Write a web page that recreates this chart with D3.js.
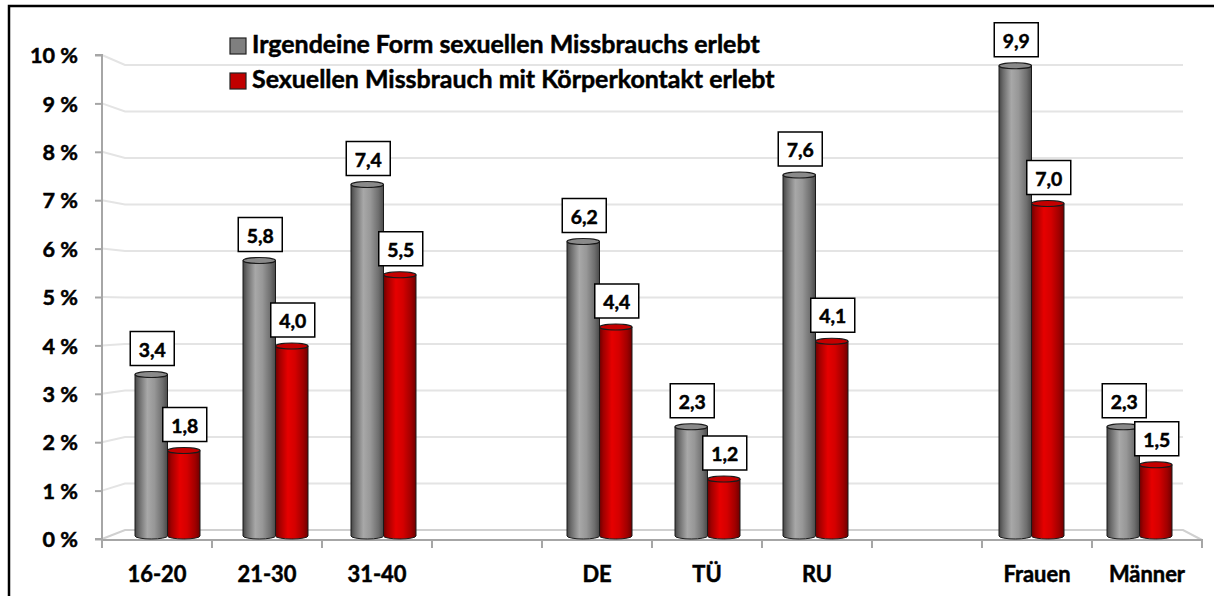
<!DOCTYPE html>
<html><head><meta charset="utf-8">
<script src="https://cdn.jsdelivr.net/npm/d3@7"></script>
<style>body{margin:0;background:#fff}svg{display:block}</style>
</head><body>
<svg id="c" width="1214" height="596"></svg>
<script>
const categories = ["16-20","21-30","31-40","","DE","TÜ","RU","","Frauen","Männer"];
const seriesNames = ["Irgendeine Form sexuellen Missbrauchs erlebt","Sexuellen Missbrauch mit Körperkontakt erlebt"];
const seriesAny = [3.4,5.8,7.4,null,6.2,2.3,7.6,null,9.9,2.3];
const seriesContact = [1.8,4.0,5.5,null,4.4,1.2,4.1,null,7.0,1.5];
const yTicks = [0,1,2,3,4,5,6,7,8,9,10];
const yTickLabels = yTicks.map(v => v + " %");

const svg = d3.select("#c");
const FONT = "Lato, 'Open Sans', sans-serif";
const defs = svg.append("defs");
function grad(id, stops){
  const g = defs.append("linearGradient").attr("id", id).attr("x1","0").attr("x2","1").attr("y1","0").attr("y2","0");
  stops.forEach(s => g.append("stop").attr("offset", s[0]).attr("stop-color", s[1]));
}
grad("gGrey", [[0,"#454545"],[0.12,"#6a6a6a"],[0.38,"#a8a8a8"],[0.6,"#979797"],[0.85,"#6e6e6e"],[1,"#4a4a4a"]]);
grad("gRed", [[0,"#6e0000"],[0.12,"#a00000"],[0.38,"#e60000"],[0.6,"#d40000"],[0.85,"#a00000"],[1,"#700000"]]);

const idx = categories.map((c,i)=>i);
// scales
const xFront = d3.scaleBand().domain(idx).range([102,1202]).padding(0);
const xBar = d3.scaleBand().domain(idx).range([113.5,1193.5]).padding(0);
const xSub = d3.scaleBand().domain([0,1]).range([0,65]).padding(0);
const yFront = d3.scaleLinear().domain([0,10]).range([539,55]);
const yBack = d3.scaleLinear().domain([0,10]).range([530,65]);
const yBar = d3.scaleLinear().domain([0,10]).range([536,61]);

// frame
svg.append("path").attr("d","M9,596 L9,6 L1214,6").attr("fill","none").attr("stroke","#000").attr("stroke-width",2.5);

// gridlines (back wall, with perspective)
const gridX0 = 125, gridX1 = 1183;
svg.append("g").selectAll("path").data(yTicks.filter(v=>v>0)).join("path")
  .attr("d", v => `M${xFront.range()[0]},${yFront(v)} L${gridX0},${yBack(v)} L${gridX1},${yBack(v)}`)
  .attr("fill","none").attr("stroke","#e4e4e4").attr("stroke-width",2);

// floor
svg.append("path").attr("d", `M${xFront.range()[0]},${yFront(0)} L${gridX0},${yBack(0)} L${gridX1},${yBack(0)} L${xFront.range()[1]},${yFront(0)+1}`)
  .attr("fill","none").attr("stroke","#d0d0d0").attr("stroke-width",2);

// y axis
const yAxis = d3.axisLeft(yFront).tickValues(yTicks).tickFormat((d,i)=>yTickLabels[i]).tickSize(7).tickPadding(17);
const ya = svg.append("g").attr("transform",`translate(${xFront.range()[0]},0)`).call(yAxis);
ya.select(".domain").attr("stroke","#a6a6a6").attr("stroke-width",2).attr("d",`M-7,${yFront(10)}H0V${yFront(0)}H-7`);
ya.selectAll(".tick line").attr("stroke","#a6a6a6").attr("stroke-width",2);
ya.selectAll(".tick text").attr("font-family",FONT).attr("font-weight","bold").attr("fill","#000").attr("font-size",21).attr("dy","0.36em");

// x axis
const xAxis = d3.axisBottom(xFront).tickSize(8).tickPadding(14).tickFormat(i => categories[i]);
const xa = svg.append("g").attr("transform",`translate(0,${yFront(0)+1})`).call(xAxis);
xa.select(".domain").attr("stroke","#a6a6a6").attr("stroke-width",2).attr("d",`M${xFront.range()[0]},8V0H${xFront.range()[1]}V8`);
xa.selectAll(".tick line").attr("stroke","#a6a6a6").attr("stroke-width",2)
  .attr("transform", `translate(${-xFront.bandwidth()/2},0)`);
xa.selectAll(".tick text").attr("font-family",FONT).attr("font-weight","bold").attr("fill","#000").attr("font-size",22).attr("dy","0.9em");

// fit font sizes to reference widths
function fitGroup(sel, refText, target){
  const n = sel.filter(function(){return this.textContent===refText;}).node();
  if(!n) return;
  const cur = parseFloat(d3.select(n).attr("font-size"));
  const w = n.getComputedTextLength();
  const s = cur*target/w;
  sel.attr("font-size", s);
}
fitGroup(ya.selectAll(".tick text"), "10 %", 48);
fitGroup(xa.selectAll(".tick text"), "16-20", 59);
svg.selectAll(".tick text").attr("stroke","#000").attr("stroke-width",0.5);

// bars
const ry = 3;
const series = [seriesAny, seriesContact];
const fills = ["url(#gGrey)","url(#gRed)"];
const tops = ["#8a8a8a","#c40000"];
const bars = [];
series.forEach((arr,si) => arr.forEach((v,i) => { if(v!=null) bars.push({si,i,v}); }));
const bw = xSub.bandwidth();
const bx = d => xBar(d.i) + (xBar.bandwidth()-65)/2 + xSub(d.si);
const gb = svg.append("g").selectAll("g").data(bars).join("g");
gb.append("path")
  .attr("d", d => {
    const x0 = bx(d), x1 = x0+bw, yt = yBar(d.v), yb = yBar(0);
    return `M${x0},${yt} L${x0},${yb} A${bw/2},${ry} 0 0 0 ${x1},${yb} L${x1},${yt} Z`;
  })
  .attr("fill", d => fills[d.si]).attr("stroke","#1a1a1a").attr("stroke-width",1);
gb.append("ellipse")
  .attr("cx", d => bx(d)+bw/2).attr("cy", d => yBar(d.v))
  .attr("rx", bw/2).attr("ry", ry)
  .attr("fill", d => tops[d.si]).attr("stroke","#1a1a1a").attr("stroke-width",1.2);

// value labels
const fmt = v => d3.format(".1f")(v).replace(".",",");
const gl = svg.append("g").selectAll("g").data(bars).join("g")
  .attr("transform", d => `translate(${bx(d)+bw/2+1},${yBar(d.v)-9})`);
gl.append("rect").attr("x",-22).attr("y",-34).attr("width",44).attr("height",34)
  .attr("fill","#fff").attr("stroke","#000").attr("stroke-width",1.5);
gl.append("text").attr("x",0).attr("y",-9).attr("text-anchor","middle")
  .attr("font-family",FONT).attr("font-weight","bold").attr("font-size",20).attr("fill","#000")
  .attr("stroke","#000").attr("stroke-width",0.5)
  .text(d => fmt(d.v));
fitGroup(gl.selectAll("text"), "3,4", 27);

// legend
const legendY = [38,73];
const legFill = ["#7f7f7f","#c00000"];
const lg = svg.append("g").selectAll("g").data(seriesNames).join("g")
  .attr("transform",(d,i)=>`translate(230,${legendY[i]})`);
lg.append("rect").attr("width",16).attr("height",16).attr("fill",(d,i)=>legFill[i]).attr("stroke","#222").attr("stroke-width",1.2);
const lt = lg.append("text").attr("x",22).attr("y",15).attr("font-family",FONT).attr("font-weight","bold")
  .attr("font-size",22).attr("fill","#000").attr("stroke","#000").attr("stroke-width",0.5).text(d=>d);
fitGroup(lt, seriesNames[0], 508);
</script>
</body></html>
